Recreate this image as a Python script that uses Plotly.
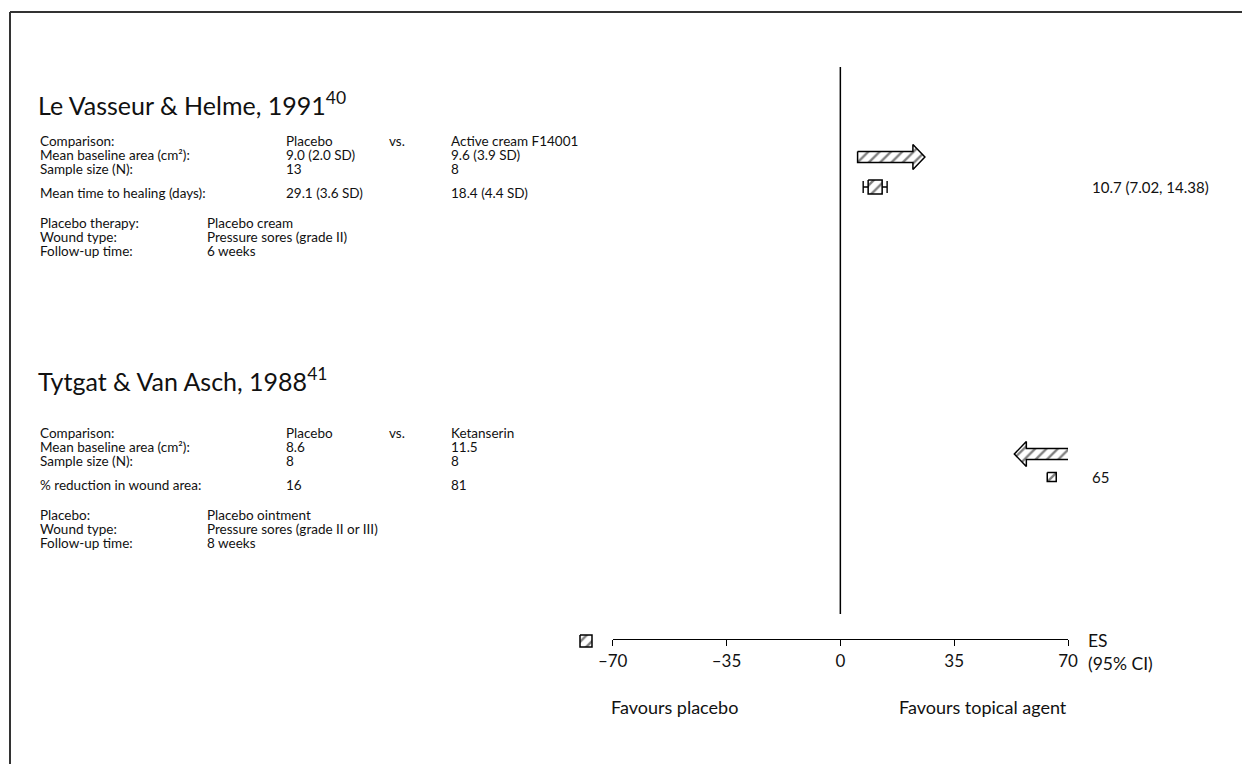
import plotly.graph_objects as go

# ---- study data -------------------------------------------------------------
study_titles = ["Le Vasseur & Helme, 1991", "Tytgat & Van Asch, 1988"]
study_refs = ["40", "41"]
comparison_placebo = ["Placebo", "Placebo"]
comparison_active = ["Active cream F14001", "Ketanserin"]
baseline_placebo = ["9.0 (2.0 SD)", "8.6"]
baseline_active = ["9.6 (3.9 SD)", "11.5"]
n_placebo = ["13", "8"]
n_active = ["8", "8"]
outcome_names = ["Mean time to healing (days):", "% reduction in wound area:"]
outcome_placebo = ["29.1 (3.6 SD)", "16"]
outcome_active = ["18.4 (4.4 SD)", "81"]
placebo_labels = ["Placebo therapy:", "Placebo:"]
placebo_desc = ["Placebo cream", "Placebo ointment"]
wound_types = ["Pressure sores (grade II)", "Pressure sores (grade II or III)"]
follow_up = ["6 weeks", "8 weeks"]

es = [10.7, 65]
ci_low = [7.02, None]
ci_high = [14.38, None]
es_labels = ["10.7 (7.02, 14.38)", "65"]
arrow_from = [5.3, 73.8]
arrow_to = [26.0, 53.5]
box_px = [14, 9]

tick_vals = [-70, -35, 0, 35, 70]
tick_text = ["\u201370", "\u201335", "0", "35", "70"]

# ---- layout constants (pixels) ---------------------------------------------
W, H = 1242, 764
X_LEFT_PX, X_RIGHT_PX = 612.7, 1068.0          # -70 .. 70 on the ES axis
PX_PER_UNIT = (X_RIGHT_PX - X_LEFT_PX) / 140.0
AXIS_Y_PX = 639
FONT = "Lato"
INK = "#111111"

title_y = [103, 379]
block_y = [141, 433]
row_offsets = [0, 14, 28, 52, 82, 96, 110]
arrow_y = [157, 454]
es_y = [187, 477]
COL_LABEL, COL_PLACEBO, COL_VS, COL_ACTIVE, COL_DESC = 38, 284, 387, 449, 205

fig = go.Figure()
ann = []


def txt(x, y, s, size=13.5, anchor="left", align="left"):
    ann.append(dict(x=x, y=y, xref="x2", yref="y", text=s, showarrow=False,
                    xanchor=anchor, yanchor="middle", align=align,
                    font=dict(family=FONT, size=size, color=INK)))


def hatched_poly(xs, ys, xaxis="x"):
    fig.add_trace(go.Scatter(
        x=xs, y=ys, xaxis=xaxis, yaxis="y", mode="lines", fill="toself",
        fillcolor="white",
        fillpattern=dict(shape="/", fgcolor="black", bgcolor="white",
                         size=8, solidity=0.3),
        line=dict(color="black", width=1.5), hoverinfo="skip",
        showlegend=False))


for i in range(len(study_titles)):
    txt(36, title_y[i], f"{study_titles[i]}<sup>{study_refs[i]}</sup>", size=25)
    ys = [block_y[i] + o for o in row_offsets]
    txt(COL_LABEL, ys[0], "Comparison:")
    txt(COL_PLACEBO, ys[0], comparison_placebo[i])
    txt(COL_VS, ys[0], "vs.")
    txt(COL_ACTIVE, ys[0], comparison_active[i])
    txt(COL_LABEL, ys[1], "Mean baseline area (cm\u00b2):")
    txt(COL_PLACEBO, ys[1], baseline_placebo[i])
    txt(COL_ACTIVE, ys[1], baseline_active[i])
    txt(COL_LABEL, ys[2], "Sample size (N):")
    txt(COL_PLACEBO, ys[2], n_placebo[i])
    txt(COL_ACTIVE, ys[2], n_active[i])
    txt(COL_LABEL, ys[3], outcome_names[i])
    txt(COL_PLACEBO, ys[3], outcome_placebo[i])
    txt(COL_ACTIVE, ys[3], outcome_active[i])
    txt(COL_LABEL, ys[4], placebo_labels[i])
    txt(COL_DESC, ys[4], placebo_desc[i])
    txt(COL_LABEL, ys[5], "Wound type:")
    txt(COL_DESC, ys[5], wound_types[i])
    txt(COL_LABEL, ys[6], "Follow-up time:")
    txt(COL_DESC, ys[6], follow_up[i])

    # direction arrow
    a0, a1, ay = arrow_from[i], arrow_to[i], arrow_y[i]
    d = 1 if a1 > a0 else -1
    hb = a1 - d * 12 / PX_PER_UNIT
    hatched_poly([a0, hb, hb, a1, hb, hb, a0, a0],
                 [ay - 5.5, ay - 5.5, ay - 12.5, ay, ay + 12.5, ay + 5.5, ay + 5.5, ay - 5.5])

    # confidence interval
    if ci_low[i] is not None:
        fig.add_trace(go.Scatter(
            x=[es[i]], y=[es_y[i]], mode="markers", marker=dict(opacity=0),
            error_x=dict(type="data", symmetric=False,
                         array=[ci_high[i] - es[i]], arrayminus=[es[i] - ci_low[i]],
                         width=6, thickness=1.4, color="black"),
            hoverinfo="skip", showlegend=False))
    # effect size box
    hw = box_px[i] / 2 / PX_PER_UNIT
    hh = box_px[i] / 2
    hatched_poly([es[i] - hw, es[i] + hw, es[i] + hw, es[i] - hw, es[i] - hw],
                 [es_y[i] - hh, es_y[i] - hh, es_y[i] + hh, es_y[i] + hh, es_y[i] - hh])
    txt(1090, es_y[i], es_labels[i], size=15)

# small key box beside the axis
kx, ky, kh = 586, 641, 6
hatched_poly([kx - kh, kx + kh, kx + kh, kx - kh, kx - kh],
             [ky - kh, ky - kh, ky + kh, ky + kh, ky - kh], xaxis="x2")

# axis captions
txt(1086, 652, "ES<br>(95% CI)", size=17.5)
txt(674, 707, "Favours placebo", size=18, anchor="center")
txt(983, 707, "Favours topical agent", size=18, anchor="center")

shapes = [
    # line of no effect
    dict(type="line", xref="x", yref="y", x0=0, x1=0, y0=67, y1=614,
         line=dict(color="black", width=1.5)),
    # page frame (left and top)
    dict(type="line", xref="paper", yref="paper", x0=10 / W, x1=10 / W,
         y0=1 - 12 / H, y1=0, line=dict(color="#333333", width=2)),
    dict(type="line", xref="paper", yref="paper", x0=10 / W, x1=1,
         y0=1 - 12 / H, y1=1 - 12 / H, line=dict(color="#333333", width=2)),
]

fig.update_layout(
    width=W, height=H,
    margin=dict(l=0, r=0, t=0, b=0, pad=0, autoexpand=False),
    paper_bgcolor="white", plot_bgcolor="rgba(0,0,0,0)",
    showlegend=False, annotations=ann, shapes=shapes,
    xaxis=dict(domain=[X_LEFT_PX / W, X_RIGHT_PX / W], range=[-70, 70],
               anchor="free", position=1 - AXIS_Y_PX / H, automargin=False,
               tickvals=tick_vals, ticktext=tick_text,
               ticks="outside", ticklen=6, tickwidth=1.4, tickcolor="black",
               showline=True, linecolor="black", linewidth=1.4,
               showgrid=False, zeroline=False,
               tickfont=dict(family=FONT, size=17, color=INK)),
    xaxis2=dict(domain=[0, 1], range=[0, W], visible=False, anchor="y",
                automargin=False),
    yaxis=dict(domain=[0, 1], range=[H, 0], visible=False, anchor="x2",
               automargin=False),
)

fig.write_html("out.html")
